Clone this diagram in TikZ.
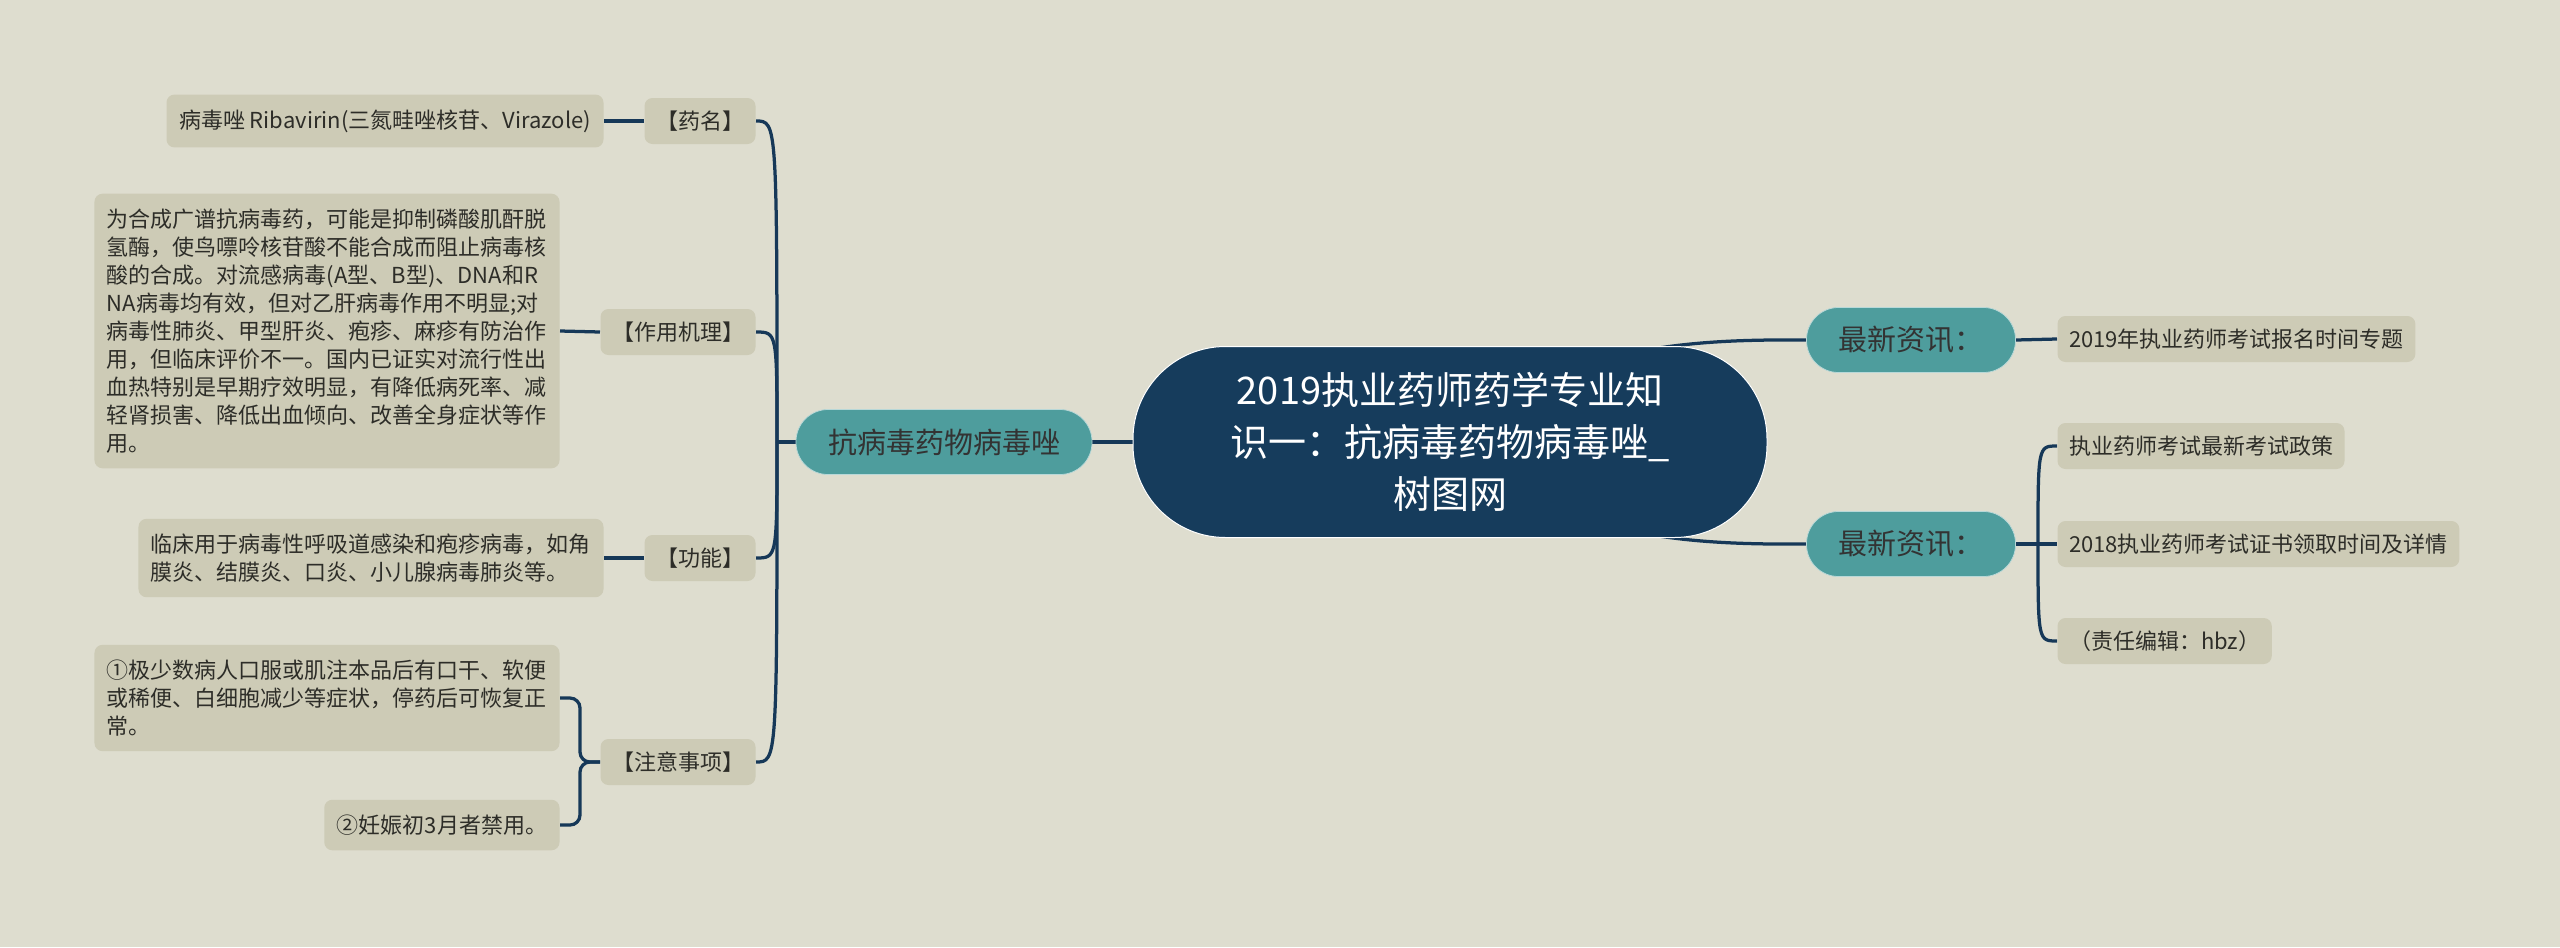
\documentclass[tikz,border=0pt]{standalone}
\usepackage{fontspec}
\setmainfont{Noto Sans CJK SC}
\usetikzlibrary{positioning}
\pgfdeclarelayer{canvas}
\pgfdeclarelayer{background}
\pgfsetlayers{canvas,background,main}
\definecolor{bgcol}{RGB}{222,221,207}
\definecolor{boxcol}{RGB}{205,203,182}
\definecolor{tealcol}{RGB}{78,157,157}
\definecolor{navycol}{RGB}{22,60,92}
\definecolor{linecol}{RGB}{22,56,88}
\definecolor{txtcol}{RGB}{45,45,40}
\tikzset{>=latex}
\tikzset{
  textbox/.style={fill=boxcol, rounded corners=3.2pt, inner xsep=5pt, inner ysep=6pt,
    minimum height=18.4pt, align=left, text=txtcol, font=\fontsize{8.8pt}{11.2pt}\selectfont},
  labelbox/.style={fill=boxcol, rounded corners=3.2pt, inner xsep=4.6pt, minimum height=18.4pt,
    text=txtcol, font=\fontsize{8.8pt}{11.2pt}\selectfont},
  topicbox/.style={fill=tealcol, draw=white!60!tealcol, line width=0.3pt, rounded corners=12.8pt,
    minimum height=26pt, inner xsep=12.8pt, text=black!80, font=\fontsize{11.6pt}{14pt}\selectfont},
  rootbox/.style={fill=navycol, draw=white, line width=0.4pt, rounded corners=37pt,
    minimum width=253.6pt, minimum height=76.4pt, align=center, text=white,
    font=\fontsize{15.2pt}{20.8pt}\selectfont},
  link/.style={draw=linecol, line width=1.3pt},
}

\begin{document}
\begin{tikzpicture}[x=0.4pt, y=-0.4pt]
      \begin{pgfonlayer}{canvas}
        \fill[bgcol] (0,0) rectangle (2560,947);
      \end{pgfonlayer}
      \useasboundingbox (0,0) rectangle (2560,947);

      % centre and main branch
      \node[rootbox] (root) at (1450,442) {2019执业药师药学专业知\\识一：抗病毒药物病毒唑\_\\树图网};
      \node[topicbox] (kang) at (944,442) {抗病毒药物病毒唑};

      % left labels
      \node[labelbox, anchor=east] (ming) at (756,121) {【药名】};
      \node[labelbox, anchor=east] (jili) at (756,332) {【作用机理】};
      \node[labelbox, anchor=east] (gong) at (756,558) {【功能】};
      \node[labelbox, anchor=east] (zhuyi) at (756,762) {【注意事项】};

      % left texts
      \node[textbox, anchor=east] (mingtxt) at (604,121) {病毒唑 Ribavirin(三氮畦唑核苷、Virazole)};
      \node[textbox, anchor=east] (jilitxt) at (560,331) {为合成广谱抗病毒药，可能是抑制磷酸肌酐脱\\
        氢酶，使鸟嘌呤核苷酸不能合成而阻止病毒核\\
        酸的合成。对流感病毒(A型、B型)、DNA和R\\
        NA病毒均有效，但对乙肝病毒作用不明显;对\\
        病毒性肺炎、甲型肝炎、疱疹、麻疹有防治作\\
        用，但临床评价不一。国内已证实对流行性出\\
        血热特别是早期疗效明显，有降低病死率、减\\
        轻肾损害、降低出血倾向、改善全身症状等作\\
        用。};
      \node[textbox, anchor=east] (gongtxt) at (604,558) {临床用于病毒性呼吸道感染和疱疹病毒，如角\\
        膜炎、结膜炎、口炎、小儿腺病毒肺炎等。};
      \node[textbox, anchor=east] (zhuyi1) at (560,698) {①极少数病人口服或肌注本品后有口干、软便\\
        或稀便、白细胞减少等症状，停药后可恢复正\\
        常。};
      \node[textbox, anchor=east] (zhuyi2) at (560,825) {②妊娠初3月者禁用。};

      % right side
      \node[topicbox, minimum width=83.6pt] (news1) at (1911,340) {最新资讯：};
      \node[topicbox, minimum width=83.6pt] (news2) at (1911,544) {最新资讯：};
      \node[labelbox, anchor=west] (r1) at (2057,339) {2019年执业药师考试报名时间专题};
      \node[labelbox, anchor=west] (r2) at (2057,446) {执业药师考试最新考试政策};
      \node[labelbox, anchor=west] (r3) at (2057,544) {2018执业药师考试证书领取时间及详情};
      \node[labelbox, anchor=west] (r4) at (2057,641) {（责任编辑：hbz）};

      \coordinate (lj) at (777,442);
      \coordinate (rj) at (2038,544);
      \begin{pgfonlayer}{background}
        \draw[link] (root.west) -- (kang.east);
        \draw[link] (kang.west) -- (lj);
        \foreach \n in {ming,jili,gong,zhuyi}
          \draw[link] (lj) .. controls (lj |- \n.east) .. (\n.east);
        \draw[link] (ming.west) -- (mingtxt.east);
        \draw[link] (jili.west) -- (jilitxt.east);
        \draw[link] (gong.west) -- (gongtxt.east);
        \draw[link, rounded corners=4pt] (zhuyi.west) -- ++(-20,0) |- (zhuyi1.east);
        \draw[link, rounded corners=4pt] (zhuyi.west) -- ++(-20,0) |- (zhuyi2.east);
        \draw[link] (root.center) .. controls (1560,347) and (1680,339) .. (news1.west);
        \draw[link] (root.center) .. controls (1560,537) and (1680,545) .. (news2.west);
        \draw[link] (news1.east) -- (r1.west);
        \draw[link] (news2.east) -- (r3.west);
        \draw[link] (rj) .. controls (rj |- r2.west) .. (r2.west);
        \draw[link] (rj) .. controls (rj |- r4.west) .. (r4.west);
      \end{pgfonlayer}
\end{tikzpicture}
\end{document}
